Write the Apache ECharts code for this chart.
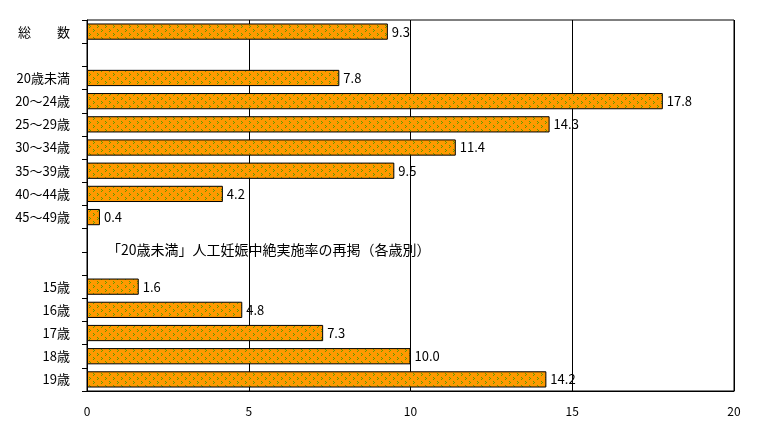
<!DOCTYPE html>
<html><head><meta charset="utf-8">
<script src="https://cdn.jsdelivr.net/npm/echarts@6/dist/echarts.min.js"></script>
<style>html,body{margin:0;padding:0;background:#fff}#c{width:772px;height:426px}</style>
</head><body><div id="c"></div>
<script>
var categories = ['総　　数','','20歳未満','20～24歳','25～29歳','30～34歳','35～39歳','40～44歳','45～49歳','','','15歳','16歳','17歳','18歳','19歳'];
var values = [9.3,null,7.8,17.8,14.3,11.4,9.5,4.2,0.4,null,null,1.6,4.8,7.3,10.0,14.2];
var xTicks = [0,5,10,15,20];
var noteText = '「20歳未満」人工妊娠中絶実施率の再掲（各歳別）';

var tile = document.createElement('canvas');
tile.width = 8; tile.height = 8;
var tc = tile.getContext('2d');
tc.fillStyle = '#FF9900'; tc.fillRect(0,0,8,8);
tc.fillStyle = '#5E9A00';
[[1,1],[2,2],[1,3],[5,5],[6,6],[5,7]].forEach(function(p){tc.fillRect(p[0],p[1],1,1);});

var font = '"Noto Sans CJK JP", sans-serif';
var chart = echarts.init(document.getElementById('c'));
chart.setOption({
  animation:false,
  grid:{left:87,right:38,top:20,bottom:35,show:true,borderColor:'#000',borderWidth:1},
  xAxis:{type:'value',min:0,max:20,interval:5,
    axisLine:{show:true,lineStyle:{color:'#000'}},axisTick:{show:false},
    splitLine:{show:true,lineStyle:{color:'#000',width:1}},
    axisLabel:{color:'#000',fontSize:12,fontFamily:font,margin:14,
      formatter:function(v){return xTicks.indexOf(v)>=0?String(v):'';}}},
  yAxis:{type:'category',inverse:true,data:categories,
    axisLine:{show:true,lineStyle:{color:'#000'}},
    axisTick:{show:true,length:5,lineStyle:{color:'#000'},alignWithLabel:false},
    axisLabel:{color:'#000',fontSize:13,fontFamily:font,margin:17}},
  series:[{type:'bar',data:values,barCategoryGap:'30%',
    itemStyle:{color:{image:tile,repeat:'repeat'},borderColor:'#000',borderWidth:1},
    label:{show:true,position:'right',distance:4,color:'#000',fontSize:13,fontFamily:font,
      formatter:function(p){return p.value==null?'':p.value.toFixed(1);}}}],
  graphic:[{type:'text',left:107,top:243,style:{text:noteText,fontSize:14,fontFamily:font,fill:'#000'}}]
});
</script></body></html>
